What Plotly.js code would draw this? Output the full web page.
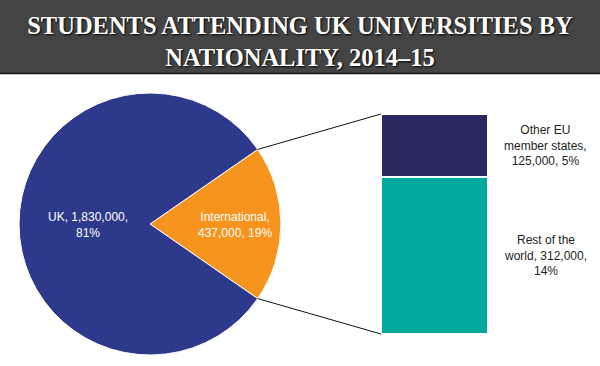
<!DOCTYPE html>
<html>
<head>
<meta charset="utf-8">
<script src="https://cdn.plot.ly/plotly-3.0.1.min.js"></script>
<style>html,body{margin:0;padding:0;background:#fff;}#chart{width:600px;height:366px;}</style>
</head>
<body>
<div id="chart"></div>
<script>
// ---- data ----
const titleLines = ["STUDENTS ATTENDING UK UNIVERSITIES BY", "NATIONALITY, 2014–15"];
const pieLabels = ["International", "UK"];
const pieValues = [437000, 1830000];
const piePct = [19, 81];
const barLabels = ["Rest of the world", "Other EU member states"];
const barValues = [312000, 125000];
const barPct = [14, 5];

// ---- styles / geometry ----
const W = 600, H = 366;
const pieColors = ["#f7941d", "#2d3a8c"];
const barColors = ["#00a99d", "#2a2860"];
const pieCx = 150, pieCy = 224, pieR = 131;
const barLeft = 381, barRight = 488, barTop = 114, barBottom = 334;

const fmt = v => v.toLocaleString("en-US");
const px = x => x / W;
const py = y => 1 - y / H;

// pie labels
const pieText = [
  pieLabels[0] + ",<br>" + fmt(pieValues[0]) + ", " + piePct[0] + "%",
  pieLabels[1] + ", " + fmt(pieValues[1]) + ",<br>" + piePct[1] + "%"
];
const barText = [
  "Rest of the<br>world, " + fmt(barValues[0]) + ",<br>" + barPct[0] + "%",
  "Other EU<br>member states,<br>" + fmt(barValues[1]) + ", " + barPct[1] + "%"
];

const total = pieValues[0] + pieValues[1];
const halfAng = Math.PI * pieValues[0] / total; // half of International slice angle
const rotationDeg = 90 - halfAng * 180 / Math.PI;

const edgeX = pieCx + pieR * Math.cos(halfAng);
const edgeTopY = pieCy - pieR * Math.sin(halfAng);
const edgeBotY = pieCy + pieR * Math.sin(halfAng);

const barTotal = barValues[0] + barValues[1];

const traces = [
  {
    type: "pie",
    labels: pieLabels,
    values: pieValues,
    sort: false,
    direction: "clockwise",
    rotation: rotationDeg,
    marker: {colors: pieColors, line: {color: "#ffffff", width: 1}},
    textinfo: "none",
    hoverinfo: "skip",
    showlegend: false,
    domain: {x: [px(pieCx - pieR), px(pieCx + pieR)], y: [py(pieCy + pieR), py(pieCy - pieR)]}
  }
];
barLabels.forEach((lab, i) => {
  traces.push({
    type: "bar",
    x: ["International"],
    y: [barValues[i]],
    name: lab,
    marker: {color: barColors[i], line: {color: "#ffffff", width: 1.5}},
    hoverinfo: "skip",
    showlegend: false,
    xaxis: "x",
    yaxis: "y"
  });
});

// bar labels at segment midpoints
const annotations = [];
let cum = 0;
barValues.forEach((v, i) => {
  annotations.push({
    xref: "paper", yref: "y",
    x: px(545), y: cum + v / 2,
    text: barText[i], showarrow: false,
    xanchor: "center", yanchor: "middle",
    font: {family: "Liberation Sans, Arial, sans-serif", size: 12, color: "#1e1e1e"}
  });
  cum += v;
});
// pie labels
annotations.push({
  xref: "paper", yref: "paper", x: px(88), y: py(225),
  text: pieText[1], showarrow: false, xanchor: "center", yanchor: "middle",
  font: {family: "Liberation Sans, Arial, sans-serif", size: 12, color: "#ffffff"}
});
annotations.push({
  xref: "paper", yref: "paper", x: px(235), y: py(225),
  text: pieText[0], showarrow: false, xanchor: "center", yanchor: "middle",
  font: {family: "Liberation Sans, Arial, sans-serif", size: 12, color: "#ffffff"}
});

const shapes = [
  {type: "rect", xref: "paper", yref: "paper", x0: 0, x1: 1, y0: py(73), y1: 1,
   fillcolor: "#444444", line: {width: 0}, layer: "below"},
  {type: "line", xref: "paper", yref: "paper", x0: 0, x1: 1, y0: py(73.5), y1: py(73.5),
   line: {color: "#151515", width: 1.5}},
  {type: "line", xref: "paper", yref: "paper", x0: px(edgeX), y0: py(edgeTopY), x1: px(barLeft), y1: py(barTop),
   line: {color: "#111111", width: 1}},
  {type: "line", xref: "paper", yref: "paper", x0: px(edgeX), y0: py(edgeBotY), x1: px(barLeft), y1: py(barBottom),
   line: {color: "#111111", width: 1}}
];

const layout = {
  width: W, height: H,
  margin: {l: 0, r: 0, t: 0, b: 0},
  paper_bgcolor: "#ffffff",
  plot_bgcolor: "rgba(0,0,0,0)",
  title: {
    text: titleLines.join("<br>"),
    x: 0.5, xanchor: "center", xref: "paper",
    y: py(34), yanchor: "middle", yref: "container",
    font: {family: "Liberation Serif, Times New Roman, serif", size: 24.5, weight: "bold", color: "#ffffff",
           shadow: "1px 1px 2px #000000"}
  },
  barmode: "stack",
  bargap: 0,
  xaxis: {domain: [px(barLeft), px(barRight)], visible: false, fixedrange: true},
  yaxis: {domain: [py(barBottom), py(barTop)], range: [0, barTotal], visible: false, fixedrange: true},
  shapes: shapes,
  annotations: annotations,
  showlegend: false
};

Plotly.newPlot("chart", traces, layout, {staticPlot: true, displayModeBar: false});
</script>
</body>
</html>
